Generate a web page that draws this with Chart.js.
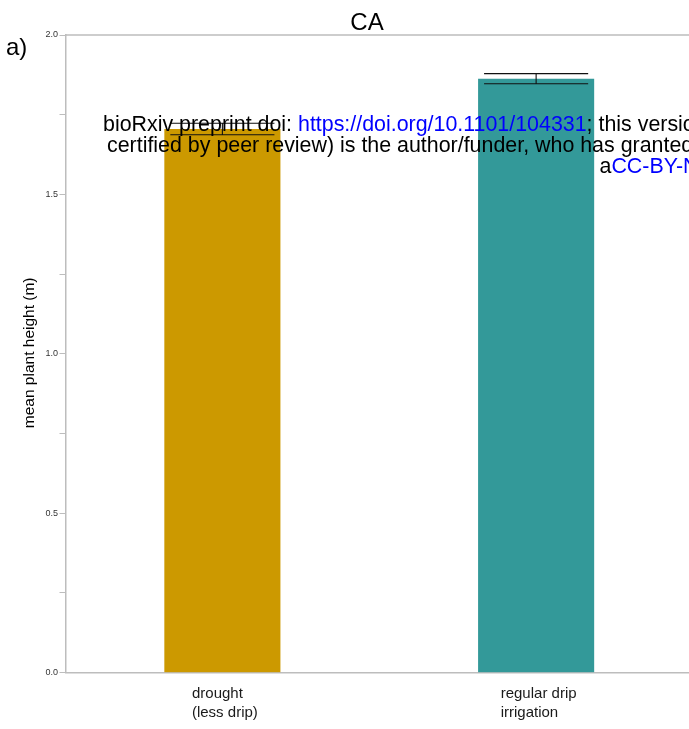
<!DOCTYPE html>
<html>
<head>
<meta charset="utf-8">
<script src="https://cdn.jsdelivr.net/npm/chart.js@4/dist/chart.umd.min.js"></script>
<style>
html,body{margin:0;padding:0;overflow:hidden;background:#fff;width:689px;height:729px}
#wrap{position:absolute;left:0;top:0;width:720px;height:729px}
</style>
</head>
<body>
<div id="wrap"><canvas id="c" width="720" height="729"></canvas></div>
<script>
// ---- data ----
const panelLabel = 'a)';
const chartTitle = 'CA';
const yAxisTitle = 'mean plant height (m)';
const categories = [['drought', '(less drip)'], ['regular drip', 'irrigation']];
const meanHeight = [1.705, 1.863];
const errHeight = [0.018, 0.016];
const yTickLabels = ['0.0', '0.5', '1.0', '1.5', '2.0'];
const watermarkLine1 = ['bioRxiv preprint doi: ', 'https://doi.org/10.1101/104331', '; this version'];
const watermarkLine2 = ['certified by peer review) is the author/funder, who has granted'];
const watermarkLine3 = ['a', 'CC-BY-NC-ND'];

// ---- styles ----
const FONT = '"Liberation Sans", Arial, Helvetica, sans-serif';
const barColors = ['#cc9900', '#339999'];
const axisGray = '#bdbdbd';
const linkBlue = '#0000ff';

function drawSegments(ctx, segs, colors, x, y) {
  let cx = x;
  segs.forEach((s, i) => {
    ctx.fillStyle = colors[i];
    ctx.fillText(s, cx, y);
    cx += ctx.measureText(s).width;
  });
}

const annot = {
  id: 'annot',
  afterDatasetsDraw(chart) {
    const {ctx, chartArea: a, scales: {y}} = chart;
    ctx.save();
    // top / right frame
    ctx.strokeStyle = axisGray;
    ctx.lineWidth = 1.5;
    ctx.beginPath();
    ctx.moveTo(a.left, a.top);
    ctx.lineTo(a.right, a.top);
    ctx.lineTo(a.right, a.bottom);
    ctx.stroke();
    // error bars
    const meta = chart.getDatasetMeta(0);
    ctx.strokeStyle = '#111';
    ctx.lineWidth = 1.1;
    meta.data.forEach((bar, i) => {
      const hi = y.getPixelForValue(meanHeight[i] + errHeight[i]);
      const lo = y.getPixelForValue(meanHeight[i] - errHeight[i]);
      const half = bar.width / 2 - 6;
      ctx.beginPath();
      ctx.moveTo(bar.x - half, hi); ctx.lineTo(bar.x + half, hi);
      ctx.moveTo(bar.x - half, lo); ctx.lineTo(bar.x + half, lo);
      ctx.moveTo(bar.x, hi); ctx.lineTo(bar.x, lo);
      ctx.stroke();
    });
    ctx.restore();
  },
  afterDraw(chart) {
    const {ctx, chartArea: a, scales: {x}} = chart;
    ctx.save();
    ctx.textBaseline = 'alphabetic';
    // x category labels (left-aligned block centred under bar)
    ctx.font = '15px ' + FONT;
    ctx.fillStyle = '#1a1a1a';
    ctx.textAlign = 'left';
    categories.forEach((lines, i) => {
      const tx = x.getPixelForValue(i);
      const w = Math.max(...lines.map(l => ctx.measureText(l).width));
      const sx = tx + 2.5 - w / 2;
      lines.forEach((l, k) => ctx.fillText(l, sx, a.bottom + 25.5 + k * 18.5));
    });
    // y title
    ctx.save();
    ctx.translate(28.5, (a.top + a.bottom) / 2 - 1);
    ctx.rotate(-Math.PI / 2);
    ctx.textAlign = 'center';
    ctx.font = '15.5px ' + FONT;
    ctx.fillStyle = '#000';
    ctx.fillText(yAxisTitle, 0, 5);
    ctx.restore();
    // title & panel label
    ctx.font = '24px ' + FONT;
    ctx.fillStyle = '#000';
    ctx.textAlign = 'center';
    ctx.fillText(chartTitle, 367, 29.5);
    ctx.textAlign = 'left';
    ctx.fillText(panelLabel, 6, 55);
    // preprint watermark overlay
    ctx.font = '21.4px ' + FONT;
    drawSegments(ctx, watermarkLine1, ['#000', linkBlue, '#000'], 103, 131);
    drawSegments(ctx, watermarkLine2, ['#000'], 107, 152);
    drawSegments(ctx, watermarkLine3, ['#000', linkBlue], 599.5, 173);
    ctx.restore();
  }
};

new Chart(document.getElementById('c'), {
  type: 'bar',
  data: {
    labels: categories,
    datasets: [{
      data: meanHeight,
      backgroundColor: barColors,
      borderWidth: 0,
      categoryPercentage: 1,
      barPercentage: 0.37
    }]
  },
  options: {
    responsive: false,
    animation: false,
    devicePixelRatio: 1,
    layout: {padding: {left: 0, top: 35, right: 27, bottom: 0}},
    plugins: {legend: {display: false}, tooltip: {enabled: false}, title: {display: false}},
    scales: {
      x: {
        type: 'category',
        offset: true,
        grid: {display: false},
        border: {display: true, color: axisGray, width: 1.5},
        ticks: {display: false},
        afterFit(s) { s.height = 56.3; }
      },
      y: {
        min: 0,
        max: 2,
        grid: {display: true, drawOnChartArea: false, drawTicks: true, tickLength: 6, color: axisGray, lineWidth: 1},
        border: {display: true, color: axisGray, width: 1.5},
        ticks: {
          stepSize: 0.25,
          padding: 1.5,
          color: '#333',
          font: {family: FONT, size: 9},
          callback: v => (Math.abs(v * 2 - Math.round(v * 2)) < 1e-9 ? yTickLabels[Math.round(v * 2)] : '')
        },
        afterFit(s) { s.width = 65.5; }
      }
    }
  },
  plugins: [annot]
});
</script>
</body>
</html>
